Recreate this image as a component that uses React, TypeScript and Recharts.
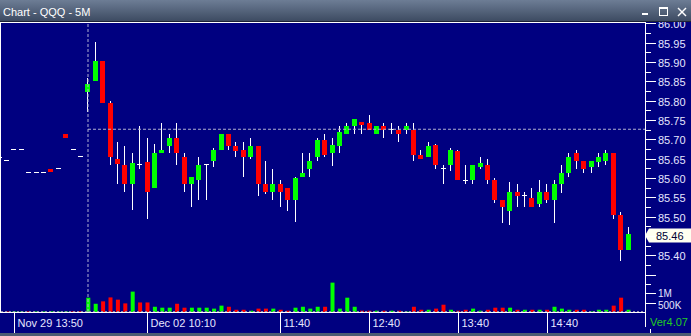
import { ComposedChart, Bar, XAxis, YAxis, ReferenceLine, Cell } from 'recharts';

// 5 minute bars, Nov 29 afternoon then Dec 02 session
const opens = [
  85.655, 85.646, 85.674, 85.674, 85.615, 85.615, 85.615, 85.624, 85.625, 85.714, 85.674, 85.656,
  85.822, 85.851, 85.903, 85.794, 85.649, 85.634, 85.584, 85.635, 85.641, 85.574, 85.665, 85.683,
  85.703, 85.654, 85.584, 85.595, 85.635, 85.644, 85.672, 85.714, 85.683, 85.672, 85.654, 85.683,
  85.584, 85.564, 85.584, 85.574, 85.543, 85.603, 85.623, 85.654, 85.698, 85.665, 85.683, 85.714,
  85.734, 85.745, 85.742, 85.714, 85.734, 85.726, 85.724, 85.724, 85.724, 85.659, 85.654, 85.685,
  85.625, 85.634, 85.670, 85.594, 85.595, 85.628, 85.634, 85.595, 85.543, 85.515, 85.564, 85.556,
  85.548, 85.533, 85.564, 85.543, 85.584, 85.613, 85.665, 85.644, 85.628, 85.641, 85.644, 85.665,
  85.504, 85.414,
];
const highs = [
  85.655, 85.646, 85.674, 85.674, 85.615, 85.615, 85.615, 85.624, 85.625, 85.714, 85.674, 85.656,
  85.858, 85.952, 85.903, 85.799, 85.693, 85.683, 85.665, 85.734, 85.703, 85.688, 85.742, 85.714,
  85.742, 85.665, 85.603, 85.654, 85.635, 85.678, 85.714, 85.714, 85.693, 85.693, 85.703, 85.683,
  85.644, 85.623, 85.595, 85.574, 85.603, 85.665, 85.665, 85.703, 85.714, 85.703, 85.734, 85.742,
  85.753, 85.745, 85.763, 85.734, 85.742, 85.742, 85.734, 85.742, 85.742, 85.672, 85.693, 85.688,
  85.634, 85.678, 85.672, 85.634, 85.634, 85.654, 85.649, 85.600, 85.543, 85.590, 85.584, 85.564,
  85.574, 85.595, 85.584, 85.595, 85.634, 85.665, 85.672, 85.644, 85.644, 85.665, 85.672, 85.665,
  85.512, 85.473,
];
const lows = [
  85.655, 85.646, 85.674, 85.674, 85.615, 85.615, 85.615, 85.615, 85.625, 85.704, 85.674, 85.656,
  85.771, 85.851, 85.795, 85.634, 85.584, 85.564, 85.517, 85.624, 85.494, 85.574, 85.665, 85.665,
  85.634, 85.564, 85.525, 85.543, 85.543, 85.628, 85.672, 85.672, 85.654, 85.603, 85.649, 85.553,
  85.559, 85.543, 85.525, 85.515, 85.487, 85.603, 85.603, 85.644, 85.654, 85.631, 85.665, 85.714,
  85.714, 85.714, 85.724, 85.714, 85.703, 85.714, 85.693, 85.714, 85.644, 85.649, 85.654, 85.623,
  85.584, 85.618, 85.595, 85.584, 85.584, 85.623, 85.584, 85.535, 85.484, 85.478, 85.525, 85.525,
  85.525, 85.525, 85.535, 85.484, 85.561, 85.603, 85.623, 85.613, 85.613, 85.628, 85.634, 85.494,
  85.385, 85.414,
];
const closes = [
  85.655, 85.646, 85.674, 85.674, 85.615, 85.615, 85.615, 85.615, 85.625, 85.704, 85.674, 85.656,
  85.843, 85.903, 85.795, 85.655, 85.637, 85.584, 85.639, 85.635, 85.564, 85.665, 85.672, 85.703,
  85.665, 85.584, 85.603, 85.634, 85.635, 85.672, 85.714, 85.683, 85.670, 85.654, 85.683, 85.584,
  85.564, 85.584, 85.564, 85.543, 85.600, 85.613, 85.644, 85.698, 85.659, 85.685, 85.719, 85.734,
  85.753, 85.737, 85.724, 85.734, 85.724, 85.726, 85.714, 85.734, 85.659, 85.649, 85.683, 85.634,
  85.625, 85.672, 85.595, 85.594, 85.634, 85.639, 85.595, 85.543, 85.525, 85.564, 85.553, 85.556,
  85.525, 85.564, 85.543, 85.584, 85.613, 85.654, 85.644, 85.623, 85.644, 85.654, 85.665, 85.504,
  85.414, 85.456,
];
// volume in thousands of shares
const volumes = [
  30, 30, 35, 30, 35, 30, 30, 35, 30, 35, 40, 40,
  765, 440, 570, 780, 660, 460, 1090, 510, 510, 280, 230, 230,
  440, 230, 230, 230, 230, 180, 340, 280, 120, 120, 70, 180,
  180, 180, 120, 70, 230, 280, 180, 280, 280, 1570, 180, 765,
  280, 70, 70, 70, 70, 70, 70, 30, 280, 120, 120, 180,
  390, 120, 70, 120, 180, 70, 120, 230, 230, 230, 120, 120,
  120, 120, 120, 280, 180, 120, 120, 120, 30, 120, 120, 340,
  765, 120,
];

const tickBars = [2, 20, 38, 50, 62, 74];
const tickLabels = ['Nov 29 13:50', 'Dec 02 10:10', '11:40', '12:40', '13:40', '14:40'];
const priceTicks = [
  85.325, 85.35, 85.375, 85.4, 85.425, 85.45, 85.475, 85.5, 85.525, 85.55, 85.575, 85.6, 85.625, 85.65,
  85.675, 85.7, 85.725, 85.75, 85.775, 85.8, 85.825, 85.85, 85.875, 85.9, 85.925, 85.95, 85.975, 86,
];
const volTicks = [1000, 500];
const volTickLabels = ['1M', '500K'];
const sessionStart = 12;
const refPrice = 85.726;
const lastPrice = closes[closes.length - 1];

const xDomain = [0.243, 87.27];
const NAVY = '#000080';
const UP = '#00ff00';
const DOWN = '#ff0000';
const TXT = '#e6e6ff';
const FONT = '"Liberation Sans", Arial, sans-serif';
const DASH = '#b0b0d0';

const data = opens.map((o, i) => ({
  i,
  open: o,
  high: highs[i],
  low: lows[i],
  close: closes[i],
  range: [lows[i], highs[i]],
  vol: volumes[i],
  up: i === 0 || closes[i] >= closes[i - 1],
}));

function Candle(props: any) {
  const { x, y, width, height, payload } = props;
  if (x == null || y == null) return null;
  const { open, close, high, low } = payload;
  const cx = Math.floor(x + width / 2);
  const top = Math.min(y, y + height);
  const span = Math.abs(height);
  const k = high > low ? span / (high - low) : 0;
  const py = (v: number) => top + (high - v) * k;
  const bTop = Math.round(py(Math.max(open, close)));
  const bBot = Math.round(py(Math.min(open, close)));
  const wTop = Math.round(top);
  const wBot = Math.round(top + span);
  return (
    <g>
      {wBot > wTop && <line x1={cx + 0.5} x2={cx + 0.5} y1={wTop} y2={wBot} stroke="#fff" />}
      {open === close ? (
        <line x1={cx - 2} x2={cx + 3} y1={bTop + 0.5} y2={bTop + 0.5} stroke="#fff" />
      ) : (
        <rect x={cx - 2} y={bTop} width={5} height={Math.max(1, bBot - bTop)} fill={close > open ? UP : DOWN} />
      )}
    </g>
  );
}

function PriceTick(props: any) {
  const { x, y, payload } = props;
  const v = payload.value;
  const major = Math.abs(v * 20 - Math.round(v * 20)) < 1e-6;
  const yy = Math.round(y) + 0.5;
  const showLabel = major && v >= 85.4 && Math.abs(v - lastPrice) > 0.01;
  return (
    <g>
      <line x1={x} x2={x + (major ? 11 : 6)} y1={yy} y2={yy} stroke="#fff" />
      {showLabel && (
        <text x={x + 13} y={y + 5} fill={TXT} fontSize={11} fontFamily={FONT}>
          {v.toFixed(2)}
        </text>
      )}
    </g>
  );
}

function TimeTick(props: any) {
  const { x, y, payload } = props;
  const label = tickLabels[tickBars.indexOf(payload.value)];
  const xx = Math.round(x) + 0.5;
  return (
    <g>
      <line x1={xx} x2={xx} y1={y + 1} y2={y + 21} stroke="#fff" />
      <text x={xx + 3} y={y + 15} fill={TXT} fontSize={11} fontFamily={FONT}>
        {label}
      </text>
    </g>
  );
}

function VolTick(props: any) {
  const { viewBox, text, dy } = props;
  const x = viewBox.x + viewBox.width;
  const y = Math.round(viewBox.y) + 0.5;
  return (
    <g>
      <line x1={x} x2={x + 11} y1={y} y2={y} stroke="#fff" />
      <text x={x + 13} y={y + 4 + dy} fill={TXT} fontSize={10} fontFamily={FONT}>
        {text}
      </text>
    </g>
  );
}

function PriceTag(props: any) {
  const { viewBox } = props;
  const x = viewBox.x + viewBox.width;
  const y = Math.round(viewBox.y) + 1.5;
  return (
    <g>
      <polygon
        points={`${x},${y} ${x + 4},${y - 7} ${x + 46},${y - 7} ${x + 46},${y + 7} ${x + 4},${y + 7}`}
        fill="#fffff0"
      />
      <text x={x + 11} y={y + 4} fill="#000033" fontSize={11} fontFamily={FONT}>
        {lastPrice.toFixed(2)}
      </text>
    </g>
  );
}

function BaseLine(props: any) {
  const { x1, x2, y1 } = props;
  const y = Math.round(y1) - 0.5;
  return <line x1={x1} x2={x2} y1={y} y2={y} stroke="#8c8cae" strokeDasharray="2 2" />;
}

export default function App() {
  return (
    <div style={{ position: 'fixed', left: 0, top: 0, width: 691, height: 336, background: NAVY, overflow: 'hidden' }}>
      <div style={{ position: 'absolute', left: 0, top: 0 }}>
        <ComposedChart width={691} height={336} data={data} margin={{ top: 23, right: 0, bottom: 0, left: 1 }}>
          <XAxis
            xAxisId="p"
            type="number"
            dataKey="i"
            domain={xDomain}
            allowDataOverflow
            ticks={tickBars}
            interval={0}
            height={24}
            axisLine={false}
            tickLine={false}
            tickSize={0}
            tickMargin={0}
            tick={<TimeTick />}
          />
          <XAxis xAxisId="v" type="number" dataKey="i" domain={xDomain} allowDataOverflow hide />
          <YAxis
            yAxisId="price"
            orientation="right"
            width={46}
            domain={[85.2534, 86.0008]}
            allowDataOverflow
            ticks={priceTicks}
            interval={0}
            axisLine={false}
            tickLine={false}
            tickSize={0}
            tickMargin={0}
            tick={<PriceTick />}
          />
          <YAxis yAxisId="vol" domain={[0, 15450]} allowDataOverflow hide />
          <ReferenceLine xAxisId="v" yAxisId="vol" y={0} shape={<BaseLine />} />
          <Bar xAxisId="v" yAxisId="vol" dataKey="vol" barSize={4} isAnimationActive={false}>
            {data.map((d) => (
              <Cell key={d.i} fill={d.up ? UP : DOWN} />
            ))}
          </Bar>
          <ReferenceLine xAxisId="p" yAxisId="price" x={sessionStart} stroke={DASH} strokeDasharray="3 2" />
          <ReferenceLine
            xAxisId="p"
            yAxisId="price"
            segment={[
              { x: sessionStart, y: refPrice },
              { x: xDomain[1], y: refPrice },
            ]}
            stroke={DASH}
            strokeDasharray="3 2"
          />
          <Bar xAxisId="p" yAxisId="price" dataKey="range" barSize={5} shape={<Candle />} isAnimationActive={false} />
          {volTicks.map((v, k) => (
            <ReferenceLine
              key={v}
              xAxisId="v"
              yAxisId="vol"
              y={v}
              stroke="none"
              label={(p: any) => <VolTick {...p} text={volTickLabels[k]} dy={k === 0 ? -1 : 1} />}
            />
          ))}
          <ReferenceLine
            xAxisId="p"
            yAxisId="price"
            y={lastPrice}
            stroke="none"
            label={(p: any) => <PriceTag {...p} />}
          />
        </ComposedChart>
      </div>
      <svg width={691} height={336} style={{ position: 'absolute', left: 0, top: 0, pointerEvents: 'none' }}>
        <defs>
          <linearGradient id="titleGrad" x1="0" y1="0" x2="0" y2="1">
            <stop offset="0" stopColor="#6d7d95" />
            <stop offset="1" stopColor="#3d4b62" />
          </linearGradient>
        </defs>
        <rect x={0} y={0} width={691} height={21} fill="url(#titleGrad)" />
        <rect x={0} y={21} width={691} height={1} fill="#1c2236" />
        <text x={3} y={16} fill="#ffffff" fontSize={11} fontFamily={FONT}>
          Chart - QQQ - 5M
        </text>
        <rect x={642} y={13} width={6} height={2} fill="#fff" />
        <rect x={659.5} y={7.5} width={8} height={8} fill="none" stroke="#fff" />
        <rect x={659} y={7} width={9} height={2} fill="#fff" />
        <line x1={678} y1={8} x2={686} y2={16} stroke="#fff" strokeWidth={1.5} />
        <line x1={686} y1={8} x2={678} y2={16} stroke="#fff" strokeWidth={1.5} />
        <line x1={0} x2={646} y1={22.5} y2={22.5} stroke="#fff" />
        <line x1={0.5} x2={0.5} y1={22} y2={313} stroke="#fff" />
        <line x1={0} x2={646} y1={312.5} y2={312.5} stroke="#fff" />
        <line x1={645.5} x2={645.5} y1={22} y2={327} stroke="#fff" />
        <line x1={650.5} x2={650.5} y1={329} y2={333} stroke="#fff" />
        <text x={650} y={325.5} fill="#22cc22" fontSize={11} fontFamily={FONT}>
          Ver4.07
        </text>
        <rect x={0} y={333} width={691} height={3} fill="#4b5a72" />
      </svg>
    </div>
  );
}
